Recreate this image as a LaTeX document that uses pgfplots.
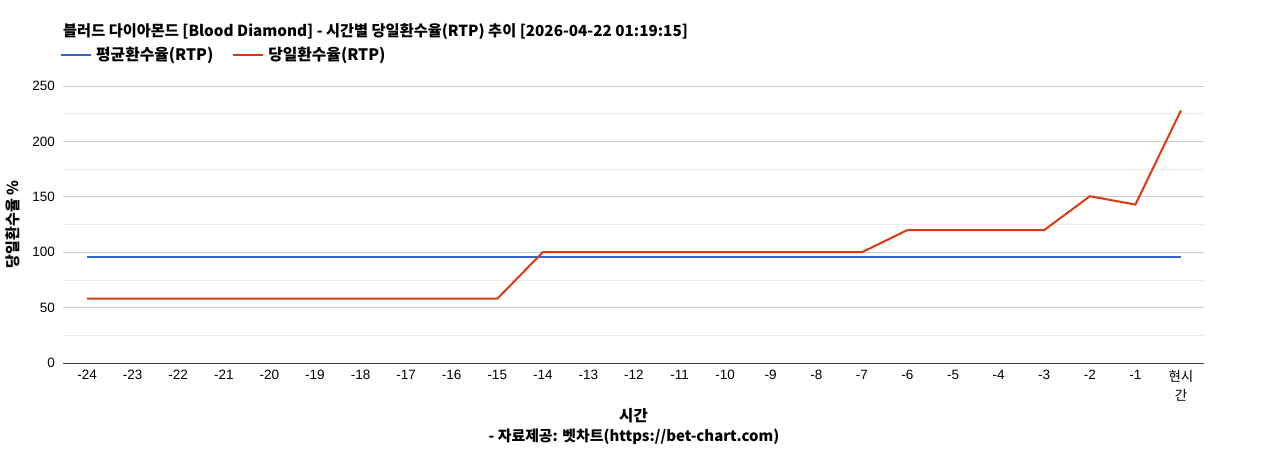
\documentclass[border=0pt]{standalone}
\usepackage{fontspec}
\setmainfont{Noto Sans CJK KR}
\newfontfamily\kr{Noto Sans CJK KR}
\newfontfamily\arial{Liberation Sans}
\usepackage{pgfplots}
\pgfplotsset{compat=1.18}
\definecolor{gblue}{HTML}{3366CC}
\definecolor{gred}{HTML}{DC3912}
\definecolor{majgrid}{HTML}{CCCCCC}
\definecolor{mingrid}{HTML}{EBEBEB}
\begin{document}
\begin{tikzpicture}[x=1pt,y=1pt]
\path[use as bounding box] (0,0) rectangle (1268,450);
\node[anchor=west, inner sep=0pt, font=\fontsize{15.25}{17}\selectfont\bfseries] at (63,418) {블러드 다이아몬드 [Blood Diamond] - 시간별 당일환수율(RTP) 추이 [2026-04-22 01:19:15]};
\node[anchor=center, font=\fontsize{14.9}{16}\selectfont\bfseries] at (634,13) {- 자료제공: 벳차트(https://bet-chart.com)};
\begin{axis}[
  at={(63pt,87pt)}, anchor=south west,
  scale only axis, width=1141pt, height=277pt,
  xmin=-0.527, xmax=24.505,
  ymin=0, ymax=250,
  ytick={0,50,100,150,200,250},
  minor ytick={25,75,125,175,225},
  ymajorgrids, yminorgrids,
  major grid style={majgrid, line width=0.8pt},
  minor grid style={mingrid, line width=0.8pt},
  xtick={0,...,24},
  xticklabels={-24,-23,-22,-21,-20,-19,-18,-17,-16,-15,-14,-13,-12,-11,-10,-9,-8,-7,-6,-5,-4,-3,-2,-1,{{\kr 현시}\\{\kr 간}}},
  major tick length=0pt, minor tick length=0pt,
  axis lines*=left,
  x axis line style={draw=black!75, line width=0.8pt, -},
  y axis line style={draw=none},
  /pgf/number format/assume math mode=true,
  yticklabel style={font=\arial\fontsize{13.5}{15}\selectfont, anchor=east, inner sep=0pt, xshift=-8pt},
  xticklabel style={font=\arial\fontsize{13.5}{19}\selectfont, anchor=north, inner sep=0pt, yshift=-7pt, align=center},
  xlabel={시간},
  xlabel style={font=\fontsize{15.5}{17}\selectfont\bfseries, at={(axis description cs:0.5,0)}, anchor=center, yshift=-53pt},
  ylabel={당일환수율 \%},
  ylabel style={font=\fontsize{15}{17}\selectfont\bfseries, at={(axis description cs:-0.0438,0.5)}, anchor=center},
  legend columns=2,
  legend style={draw=none, fill=none, at={(axis description cs:0,1)}, anchor=west, yshift=31pt, xshift=-3pt,
    font=\fontsize{15.8}{17}\selectfont\bfseries, inner sep=0pt,
    /tikz/every odd column/.append style={column sep=2pt},
    /tikz/every even column/.append style={column sep=17pt}},
  legend image code/.code={\draw[#1, line width=2pt] (0pt,0pt) -- (30pt,0pt);},
  clip=false,
]
\addplot[gblue, line width=2pt] coordinates {(0,96) (24,96)};
\addlegendentry{평균환수율(RTP)}
\addplot[gred, line width=2pt] coordinates {
(0,58) (1,58) (2,58) (3,58) (4,58) (5,58) (6,58) (7,58) (8,58) (9,58)
(10,100) (11,100) (12,100) (13,100) (14,100) (15,100) (16,100) (17,100)
(18,120) (19,120) (20,120) (21,120)
(22,150.5) (23,143) (24,228)};
\addlegendentry{당일환수율(RTP)}
\end{axis}
\end{tikzpicture}
\end{document}
